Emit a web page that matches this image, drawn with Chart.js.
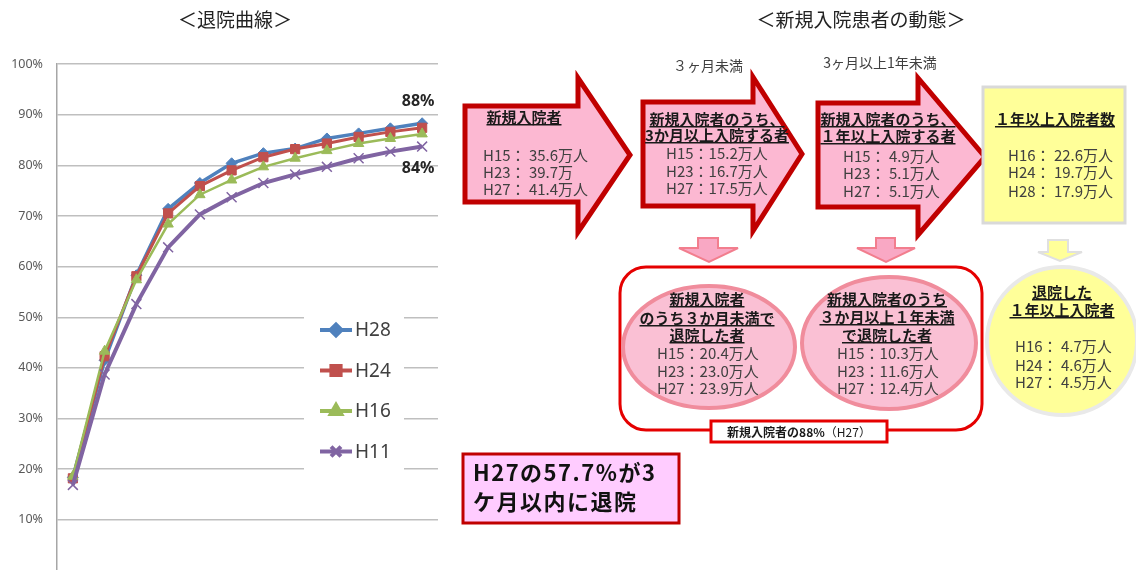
<!DOCTYPE html>
<html lang="ja">
<head>
<meta charset="utf-8">
<script src="https://cdn.jsdelivr.net/npm/chart.js@4.4.1/dist/chart.umd.min.js"></script>
<style>
  html, body { margin: 0; padding: 0; background: #fff; overflow: hidden; }
  body { width: 1136px; height: 570px; position: relative; font-family: "Noto Sans CJK JP", "Noto Sans", sans-serif; }
  #curvaAlta { position: absolute; left: 0; top: 0; }
  #diagrama { position: absolute; left: 0; top: 0; }
  .t { font-size: 15px; font-weight: bold; fill: #1a1a1a; text-decoration: underline; }
  .d { font-size: 15px; fill: #404040; }
  .s { font-size: 14px; fill: #404040; }
  .c { font-size: 22px; font-weight: bold; fill: #111; letter-spacing: 1.5px; }
</style>
</head>
<body>
<canvas id="curvaAlta" width="460" height="592"></canvas>

<svg id="diagrama" width="1136" height="570" font-family="Noto Sans CJK JP, sans-serif">
  <text x="235" y="27" text-anchor="middle" font-size="19" fill="#222">＜退院曲線＞</text>
  <text x="861" y="27" text-anchor="middle" font-size="19" fill="#222">＜新規入院患者の動態＞</text>

  <text class="s" x="708" y="71" text-anchor="middle">３ヶ月未満</text>
  <text class="s" x="880" y="68" text-anchor="middle">3ヶ月以上1年未満</text>

  <!-- setas grandes -->
  <polygon points="465,106 578,106 578,78 630,155 578,232 578,202 465,202" fill="#FCB8D2" stroke="#C00000" stroke-width="5" stroke-linejoin="miter"/>
  <polygon points="643,102 753,102 753,77 802,154 753,231 753,206 643,206" fill="#FCB8D2" stroke="#C00000" stroke-width="5"/>
  <polygon points="818,103 918,103 918,78 985,157 918,235 918,207 818,207" fill="#FCB8D2" stroke="#C00000" stroke-width="5"/>
  <rect x="983" y="87" width="142" height="136" fill="#FFFF99" stroke="#D9D9D9" stroke-width="3"/>

  <!-- setas pequenas -->
  <polygon points="698,238 718,238 718,248 738,248 709,262 679,248 698,248" fill="#F9A8C4" stroke="#F27E8E" stroke-width="2"/>
  <polygon points="876,238 895,238 895,248 915,248 886,262 857,248 876,248" fill="#F9A8C4" stroke="#F27E8E" stroke-width="2"/>
  <polygon points="1048,240 1068,240 1068,252 1082,252 1060,261 1038,252 1048,252" fill="#FFFF99" stroke="#E0E0E0" stroke-width="2"/>

  <!-- grupo de alta -->
  <rect x="620" y="267" width="362" height="163" rx="26" ry="26" fill="#fff" stroke="#E50000" stroke-width="3"/>
  <ellipse cx="709" cy="347" rx="86" ry="61" fill="#FAC0D4" stroke="#F08C9C" stroke-width="4"/>
  <ellipse cx="889" cy="343" rx="87" ry="66" fill="#FAC0D4" stroke="#F08C9C" stroke-width="4"/>
  <rect x="711" y="421" width="176" height="21" fill="#fff" stroke="#E50000" stroke-width="3"/>
  <ellipse cx="1062" cy="341" rx="75" ry="74" fill="#FFFF99" stroke="#E9E9E9" stroke-width="4"/>

  <rect x="463" y="454" width="216" height="69" fill="#FFCCFF" stroke="#C00000" stroke-width="3"/>

  <!-- textos -->
  <text class="t" x="524" y="123" text-anchor="middle">新規入院者</text>
  <text class="d" x="483" y="161">H15： 35.6万人</text>
  <text class="d" x="483" y="178">H23： 39.7万</text>
  <text class="d" x="483" y="195">H27： 41.4万人</text>

  <text class="t" x="717" y="125" text-anchor="middle">新規入院者のうち、</text>
  <text class="t" x="717" y="141" text-anchor="middle">3か月以上入院する者</text>
  <text class="d" x="666" y="159">H15：15.2万人</text>
  <text class="d" x="666" y="177">H23：16.7万人</text>
  <text class="d" x="666" y="194">H27：17.5万人</text>

  <text class="t" x="888" y="125" text-anchor="middle">新規入院者のうち、</text>
  <text class="t" x="888" y="142" text-anchor="middle">１年以上入院する者</text>
  <text class="d" x="843" y="162">H15： 4.9万人</text>
  <text class="d" x="843" y="179">H23： 5.1万人</text>
  <text class="d" x="843" y="197">H27： 5.1万人</text>

  <text class="t" x="1055" y="125" text-anchor="middle">１年以上入院者数</text>
  <text class="d" x="1008" y="161">H16： 22.6万人</text>
  <text class="d" x="1008" y="178">H24： 19.7万人</text>
  <text class="d" x="1008" y="197">H28： 17.9万人</text>

  <text class="t" x="707" y="305" text-anchor="middle">新規入院者</text>
  <text class="t" x="707" y="324" text-anchor="middle">のうち３か月未満で</text>
  <text class="t" x="707" y="341" text-anchor="middle">退院した者</text>
  <text class="d" x="657" y="359">H15：20.4万人</text>
  <text class="d" x="657" y="377">H23：23.0万人</text>
  <text class="d" x="657" y="394">H27：23.9万人</text>

  <text class="t" x="887" y="305" text-anchor="middle">新規入院者のうち</text>
  <text class="t" x="887" y="323" text-anchor="middle">３か月以上１年未満</text>
  <text class="t" x="887" y="341" text-anchor="middle">で退院した者</text>
  <text class="d" x="837" y="359">H15：10.3万人</text>
  <text class="d" x="837" y="377">H23：11.6万人</text>
  <text class="d" x="837" y="394">H27：12.4万人</text>

  <text x="799" y="437" text-anchor="middle" font-size="12" fill="#1a1a1a"><tspan font-weight="bold">新規入院者の88%</tspan>（H27）</text>

  <text class="t" x="1062" y="298" text-anchor="middle">退院した</text>
  <text class="t" x="1062" y="316" text-anchor="middle">１年以上入院者</text>
  <text class="d" x="1015" y="352">H16： 4.7万人</text>
  <text class="d" x="1015" y="371">H24： 4.6万人</text>
  <text class="d" x="1015" y="388">H27： 4.5万人</text>

  <text class="c" x="473" y="481">H27の57.7%が3</text>
  <text class="c" x="473" y="510">ケ月以内に退院</text>
</svg>

<script>
// dados do grafico (退院曲線), em % por mes de internacao
const meses = ['1', '2', '3', '4', '5', '6', '7', '8', '9', '10', '11', '12'];
const nomesSeries = ['H28', 'H24', 'H16', 'H11'];
const h28 = [18.4, 41.5, 58.3, 71.4, 76.5, 80.4, 82.4, 83.3, 85.3, 86.3, 87.3, 88.3];
const h24 = [18.2, 42.3, 58.1, 70.5, 75.9, 79.0, 81.6, 83.2, 84.3, 85.6, 86.6, 87.4];
const h16 = [18.6, 43.3, 57.4, 68.4, 74.2, 77.1, 79.7, 81.4, 82.9, 84.3, 85.3, 86.2];
const h11 = [16.9, 38.7, 52.6, 63.8, 70.3, 73.7, 76.5, 78.2, 79.7, 81.4, 82.7, 83.7];
const rotulosFinais = ['88%', '84%'];

// legenda + rotulos 88% / 84%
const extras = {
    id: 'extras',
    afterDatasetsDraw(chart) {
        const ctx = chart.ctx;
        const xs = chart.scales.x;
        const ys = chart.scales.y;
        const n = meses.length - 1;

        ctx.save();
        ctx.font = 'bold 16px "Noto Sans"';
        ctx.fillStyle = '#262626';
        ctx.textAlign = 'center';
        ctx.textBaseline = 'middle';
        const px = xs.getPixelForValue(n) - 4;
        ctx.fillText(rotulosFinais[0], px, ys.getPixelForValue(h28[n]) - 22);
        ctx.fillText(rotulosFinais[1], px, ys.getPixelForValue(h11[n]) + 22);

        // fundo branco da legenda (corta as linhas de grade)
        ctx.fillStyle = '#fff';
        ctx.fillRect(304, 306, 100, 168);

        chart.data.datasets.forEach(function (ds, i) {
            let y = 330 + i * 40.5;
            ctx.strokeStyle = ds.borderColor;
            ctx.lineWidth = 4;
            ctx.beginPath();
            ctx.moveTo(320, y);
            ctx.lineTo(352, y);
            ctx.stroke();
            ctx.fillStyle = ds.pointBackgroundColor;
            ctx.strokeStyle = ds.pointBorderColor;
            Chart.helpers.drawPoint(ctx, {
                pointStyle: ds.pointStyle,
                radius: ds.pointRadius,
                borderWidth: ds.pointBorderWidth,
                rotation: 0
            }, 336, y);
            ctx.fillStyle = '#404040';
            ctx.font = '19px "Noto Sans"';
            ctx.textAlign = 'left';
            ctx.fillText(ds.label, 355, y + 1);
        });
        ctx.restore();
    }
};

function serie(nome, valores, cor, estilo, raio, largura, ordem) {
    return {
        label: nome,
        data: valores,
        borderColor: cor,
        borderWidth: largura,
        pointStyle: estilo,
        pointRadius: raio,
        pointBackgroundColor: estilo === 'crossRot' ? 'transparent' : cor,
        pointBorderColor: cor,
        pointBorderWidth: estilo === 'crossRot' ? 1.5 : 1,
        tension: 0,
        order: ordem
    };
}

const ctx = document.getElementById('curvaAlta');

new Chart(ctx, {
    type: 'line',
    data: {
        labels: meses,
        datasets: [
            serie(nomesSeries[0], h28, '#4F81BD', 'rectRot', 5.5, 3.5, 4),
            serie(nomesSeries[1], h24, '#C0504D', 'rect', 6.5, 3, 3),
            serie(nomesSeries[2], h16, '#9BBB59', 'triangle', 6, 2.5, 2),
            serie(nomesSeries[3], h11, '#8064A2', 'crossRot', 7, 4, 1)
        ]
    },
    options: {
        responsive: false,
        animation: false,
        devicePixelRatio: 1,
        layout: { padding: { top: 64, right: 22, bottom: 2, left: 0 } },
        plugins: {
            legend: { display: false },
            tooltip: { enabled: false }
        },
        scales: {
            x: {
                type: 'category',
                offset: true,
                display: false
            },
            y: {
                min: 0,
                max: 100,
                afterFit: function (s) { s.width = 57; },
                border: { color: '#A6A6A6', width: 1.5 },
                grid: {
                    drawTicks: false,
                    lineWidth: 1.5,
                    color: function (c) { return c.tick && c.tick.value === 0 ? 'transparent' : '#BFBFBF'; }
                },
                ticks: {
                    stepSize: 10,
                    padding: 14,
                    color: '#595959',
                    font: { family: 'Noto Sans', size: 12.5 },
                    callback: function (v) { return v === 0 ? '' : v + '%'; }
                }
            }
        }
    },
    plugins: [extras]
});
</script>
</body>
</html>
